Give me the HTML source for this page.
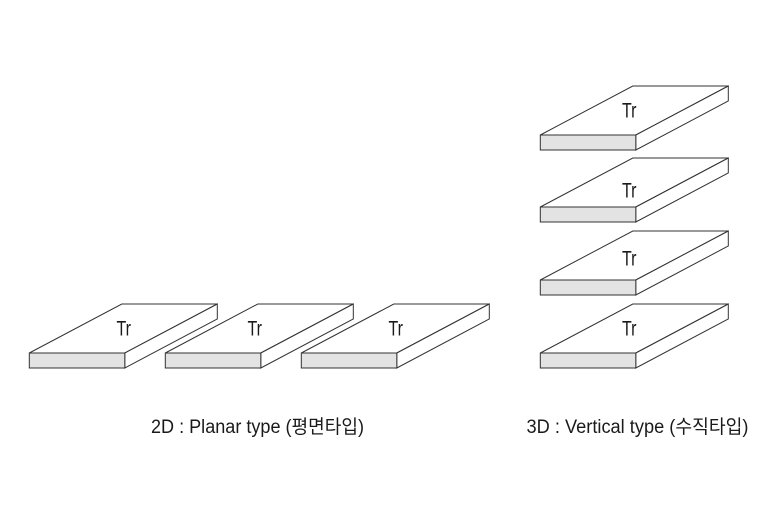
<!DOCTYPE html>
<html>
<head>
<meta charset="utf-8">
<style>
html,body{margin:0;padding:0;background:#fff;width:780px;height:520px;overflow:hidden}
svg{display:block}
text{font-family:"Liberation Sans","Noto Sans CJK KR",sans-serif;fill:#1a1a1a}
</style>
</head>
<body>
<svg width="780" height="520" viewBox="0 0 780 520" xmlns="http://www.w3.org/2000/svg">
<defs>
<g id="b" stroke="#333" stroke-width="1" stroke-linejoin="miter">
<path d="M0 49 L92.500 0 L188 0 L95.500 49 Z" fill="#fff"/>
<path d="M95.500 49 L188 0 L188 15 L95.500 64 Z" fill="#fff"/>
<rect x="0" y="49" width="95.500" height="15" fill="#e3e3e3"/>
</g>
</defs>
<use href="#b" x="29.300" y="304"/>
<use href="#b" x="165.300" y="304"/>
<use href="#b" x="301.300" y="304"/>
<use href="#b" x="540.300" y="86"/>
<use href="#b" x="540.300" y="158"/>
<use href="#b" x="540.300" y="231"/>
<use href="#b" x="540.300" y="304"/>
<g font-size="21">
<text x="116.500" y="335.500" textLength="14.500" lengthAdjust="spacingAndGlyphs">Tr</text>
<text x="247.500" y="335.500" textLength="14.500" lengthAdjust="spacingAndGlyphs">Tr</text>
<text x="388.500" y="335.500" textLength="14.500" lengthAdjust="spacingAndGlyphs">Tr</text>
<text x="622" y="117.500" textLength="14.500" lengthAdjust="spacingAndGlyphs">Tr</text>
<text x="622" y="197.500" textLength="14.500" lengthAdjust="spacingAndGlyphs">Tr</text>
<text x="622" y="265.500" textLength="14.500" lengthAdjust="spacingAndGlyphs">Tr</text>
<text x="622" y="335.500" textLength="14.500" lengthAdjust="spacingAndGlyphs">Tr</text>
</g>
<g font-size="19">
<text x="151" y="433" textLength="213" lengthAdjust="spacingAndGlyphs">2D : Planar type (평면타입)</text>
<text x="526.500" y="433" textLength="222" lengthAdjust="spacingAndGlyphs">3D : Vertical type (수직타입)</text>
</g>
</svg>
</body>
</html>
